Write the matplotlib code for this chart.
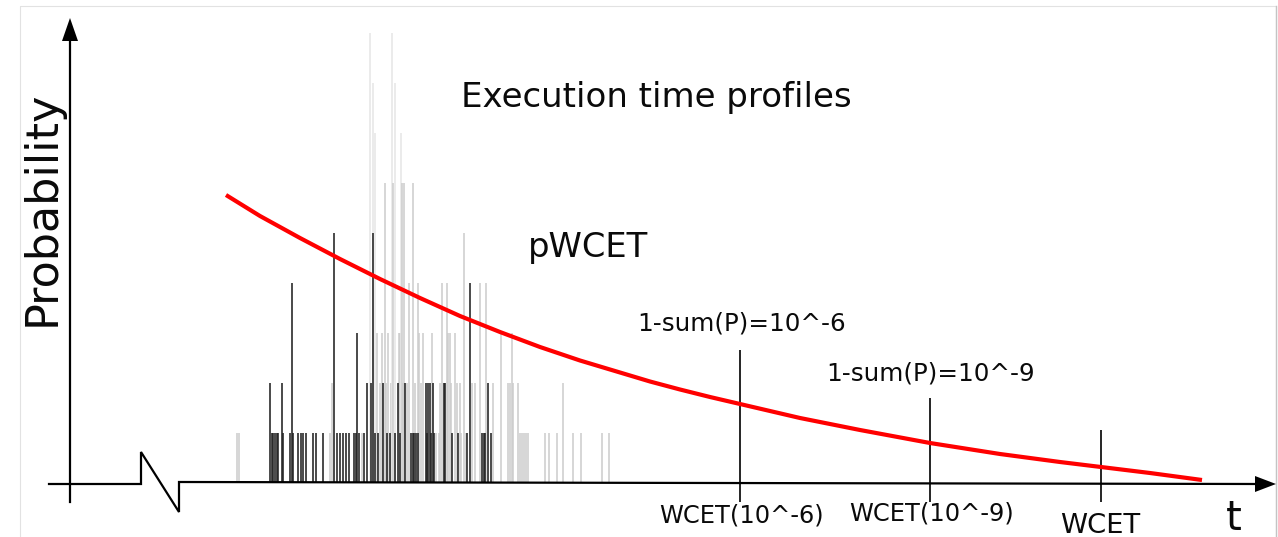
import matplotlib
matplotlib.use("Agg")
import matplotlib.pyplot as plt
import matplotlib.transforms as mtransforms
from matplotlib.patches import Polygon, Rectangle

# ---------------- data ----------------
# execution-time profile (dark series): time position, probability level
dark_t = [270, 271.7, 273.3, 275, 276.7, 278.3, 281.7, 283.3, 290, 291.7, 293.3,
          298.3, 301, 303.3, 306, 312.7, 316, 322.7,
          334, 337, 340, 343, 346, 349, 353.5, 355.5, 357, 359, 364, 367,
          371, 373, 375, 378, 383, 387, 390, 395, 398, 400, 405,
          411, 412.5, 414, 416, 417.5, 426, 427, 428, 430, 431, 433, 434,
          444, 445, 452, 458, 467, 470, 482, 483.5, 485, 488, 491]
dark_p = [2, 1, 1, 1, 1, 1, 2, 1, 1, 4, 1,
          1, 1, 1, 1, 1, 1, 1,
          5, 1, 1, 1, 1, 1, 1, 1, 3, 1, 1, 2,
          2, 5, 1, 1, 2, 1, 1, 1, 2, 1, 2,
          1, 1, 1, 1, 1, 2, 1, 2, 2, 1, 2, 1,
          2, 2, 1, 1, 1, 4, 1, 1, 1, 2, 1]

# execution-time profile (light series)
light_t = [237, 239, 330, 332, 362, 370, 373, 375, 377, 380, 382, 385, 386, 388,
           391, 392, 393, 395, 399, 400, 401, 402, 403, 404, 407, 409, 413, 415,
           418, 419, 421, 423, 432, 436, 439, 440, 442, 447, 448, 450, 451, 455,
           457, 460, 461, 464, 466, 472, 475, 480, 486, 493, 501, 508, 510, 512,
           513, 518, 520, 522, 524, 526, 528, 545, 549, 557, 563, 573, 581, 602, 609]
light_p = [1, 1, 1, 2, 1, 9, 8, 7, 3, 2, 3, 6, 2, 3,
           2, 9, 6, 8, 3, 3, 7, 6, 2, 6, 2, 4, 6, 2,
           4, 3, 2, 3, 3, 1, 1, 2, 4, 4, 3, 3, 2, 3,
           2, 2, 1, 5, 1, 2, 2, 4, 4, 2, 3, 2, 2, 3,
           2, 2, 1, 1, 1, 1, 1, 1, 1, 1, 2, 1, 1, 1, 1]

# pWCET curve (exceedance probability)
pwcet_t = [226, 260, 300, 340, 380, 420, 460, 500, 540, 580, 620, 650, 680, 710,
           740, 770, 800, 830, 860, 930, 1000, 1060, 1101, 1150, 1202]
pwcet_p = [5.75, 5.33, 4.89, 4.47, 4.07, 3.69, 3.33, 3.01, 2.71, 2.44, 2.20,
           2.02, 1.86, 1.71, 1.57, 1.43, 1.29, 1.17, 1.05, 0.79, 0.57, 0.41,
           0.31, 0.19, 0.05]

# WCET markers
wcet_t = [740, 930, 1101]
wcet_top = [2.65, 1.69, 1.05]
wcet_labels = ["WCET(10^-6)", "WCET(10^-9)", "WCET"]
prob_labels = ["1-sum(P)=10^-6", "1-sum(P)=10^-9"]

title_text = "Execution time profiles"
curve_text = "pWCET"
ylabel_text = "Probability"
xlabel_text = "t"

# ---------------- figure ----------------
W, H = 1278, 537
fig = plt.figure(figsize=(W / 100, H / 100), dpi=100)
fig.patch.set_facecolor("white")
ax = fig.add_axes([0, 0, 1, 1])
BASE, UNIT = 482.5, 50.0
ax.set_xlim(0, W)
ax.set_ylim((BASE - H) / UNIT, BASE / UNIT)
ax.axis("off")

# pixel (y down) transform for layout elements
pix = mtransforms.Affine2D().scale(1 / W, -1 / H).translate(0, 1) + fig.transFigure

# faint frame
ax.add_patch(Rectangle((20, 6), 1256, 540, transform=pix, fill=False,
                       edgecolor="#e2e2e2", lw=0.8, zorder=0))
ax.plot([1276, 1276], [6, 537], transform=pix, color="#c4c4c4", lw=1.0, zorder=0)

# bars
light_cols = ["#e6e6e6" if p >= 7 else "#cccccc" for p in light_p]
ax.vlines(light_t, 0, light_p, colors=light_cols, lw=1.1, zorder=2)
ax.vlines(dark_t, 0, dark_p, colors="#222222", lw=1.15, zorder=3)

# pWCET curve
ax.plot(pwcet_t, pwcet_p, color="#ff0000", lw=3.0, solid_capstyle="butt",
        solid_joinstyle="round", zorder=5)

# WCET marker lines
ax.vlines(wcet_t, -0.38, wcet_top, colors="black", lw=1.2, zorder=4)

# axes with break
ax.plot([70, 70], [502, 38], transform=pix, color="black", lw=1.6, zorder=6)
ax.add_patch(Polygon([(70, 18), (62, 41), (78, 41)], closed=True, transform=pix,
                     facecolor="black", edgecolor="none", zorder=6))
ax.plot([49, 141, 141, 179, 179, 1258], [484, 484, 452, 512, 482, 484],
        transform=pix, color="black", lw=1.6, solid_joinstyle="miter", zorder=6)
ax.add_patch(Polygon([(1276, 484), (1255, 476), (1255, 492)], closed=True, transform=pix,
                     facecolor="black", edgecolor="none", zorder=6))

# texts
fam = ["DejaVu Sans"]
tc = "#0a0a0a"
ax.text(461, 107, title_text, transform=pix, fontsize=24.5, family=fam,
        ha="left", va="baseline", color=tc)
ax.text(528, 257, curve_text, transform=pix, fontsize=24.3, family=fam,
        ha="left", va="baseline", color=tc)
ax.text(637, 331, prob_labels[0], transform=pix, fontsize=17.7, family=fam,
        ha="left", va="baseline", color=tc)
ax.text(826, 380, prob_labels[1], transform=pix, fontsize=17.7, family=fam,
        ha="left", va="baseline", color=tc)
ax.text(659, 522, wcet_labels[0], transform=pix, fontsize=17.4, family=fam,
        ha="left", va="baseline", color=tc)
ax.text(849, 520, wcet_labels[1], transform=pix, fontsize=17.4, family=fam,
        ha="left", va="baseline", color=tc)
ax.text(1060, 533, wcet_labels[2], transform=pix, fontsize=19.7, family=fam,
        ha="left", va="baseline", color=tc)
ax.text(1226, 530, xlabel_text, transform=pix, fontsize=29, family=fam,
        ha="left", va="baseline", color=tc)
ax.text(55, 208.5, ylabel_text, transform=pix, fontsize=32, family=fam,
        rotation=90, rotation_mode="anchor", ha="center", va="baseline", color=tc)

fig.savefig("out.png", dpi=100, facecolor="white")
